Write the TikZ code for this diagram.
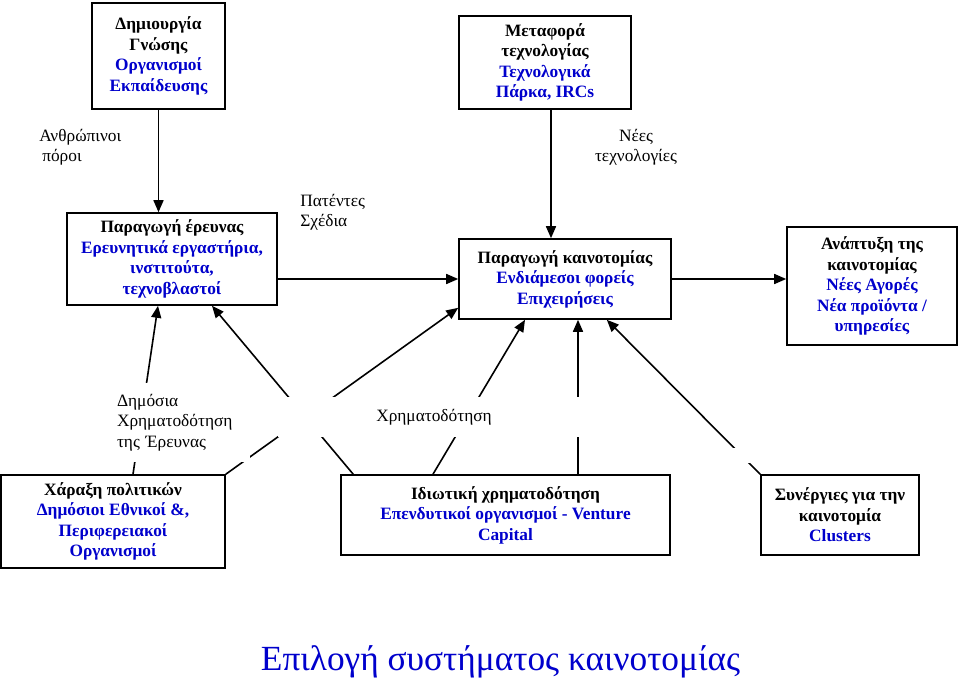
\documentclass[tikz,border=0pt]{standalone}
\usepackage{fontspec}
\setmainfont{Liberation Serif}
\usetikzlibrary{arrows.meta}
\definecolor{wordblue}{RGB}{0,0,204}
\newcommand{\bl}[1]{\textcolor{wordblue}{#1}}

\begin{document}
\begin{tikzpicture}[x=0.75pt,y=-0.75pt,
  box/.style={draw, line width=1.2pt, fill=white, align=center, inner sep=0pt,
    font=\fontsize{13}{15.4}\selectfont\bfseries},
  lbl/.style={align=left, inner sep=0pt, font=\fontsize{13}{15.4}\selectfont},
  mask/.style={fill=white, inner sep=0pt},
  arr/.style={line width=1.2pt, -{Triangle[length=9pt,width=7.5pt]}}]
\useasboundingbox (0,0) rectangle (959,678);
%% \draw[help lines, step=50] (0,0) grid (959,678);

%% top row
\node[box, minimum width=99.75pt, minimum height=79.5pt] (knowledge) at (158.5,56)
  {Δημιουργία\\Γνώσης\\\bl{Οργανισμοί}\\\bl{Εκπαίδευσης}};
\node[box, minimum width=129pt, minimum height=69.75pt] (transfer) at (545,62.5)
  {Μεταφορά\\τεχνολογίας\\\bl{Τεχνολογικά}\\\bl{Πάρκα, IRCs}};

%% middle row
\node[box, minimum width=157.5pt, minimum height=69pt] (research) at (172,259)
  {Παραγωγή έρευνας\\\bl{Ερευνητικά εργαστήρια,}\\\bl{ινστιτούτα,}\\\bl{τεχνοβλαστοί}};
\node[box, minimum width=159pt, minimum height=60pt] (innov) at (565,279)
  {Παραγωγή καινοτομίας\\\bl{Ενδιάμεσοι φορείς}\\\bl{Επιχειρήσεις}};
\node[box, minimum width=127.5pt, minimum height=88.5pt] (devel) at (872,286)
  {Ανάπτυξη της\\καινοτομίας\\\bl{Νέες Αγορές}\\\bl{Νέα προϊόντα /}\\\bl{υπηρεσίες}};

%% bottom row
\node[box, minimum width=168pt, minimum height=69.75pt] (pol) at (113,521.5)
  {Χάραξη πολιτικών\\\bl{Δημόσιοι Εθνικοί \&,}\\\bl{Περιφερειακοί}\\\bl{Οργανισμοί}};
\node[box, minimum width=246.75pt, minimum height=60pt] (priv) at (505.5,515)
  {Ιδιωτική χρηματοδότηση\\\bl{Επενδυτικοί οργανισμοί - Venture}\\\bl{Capital}};
\node[box, minimum width=118.5pt, minimum height=60pt] (syn) at (840,515)
  {Συνέργιες για την\\καινοτομία\\\bl{Clusters}};

%% flows between the boxes
\coordinate (tt) at ([xshift=4.5pt]transfer.south);
\draw[arr] (knowledge.south) -- (knowledge.south |- research.north);
\draw[arr] (tt) -- (tt |- innov.north);
\draw[arr] (research.east |- innov.west) -- (innov.west);
\draw[arr] (innov.east) -- (innov.east -| devel.west);

%% funding lines
\draw[arr] ([xshift=15pt]pol.north) -- ([xshift=-10.5pt]research.south);
\draw[arr] (pol.north east) -- ([yshift=9pt]innov.south west);
\draw[arr] ([xshift=9.75pt]priv.north west) -- ([xshift=30pt]research.south);
\draw[arr] ([xshift=-54.4pt]priv.north) -- ([xshift=-30pt]innov.south);
\draw[arr] ([xshift=54.4pt]priv.north) -- ([xshift=9.75pt]innov.south);
\draw[arr] (syn.north west) -- ([xshift=-48.75pt]innov.south east);

%% labels (white text boxes break the lines)
\node[lbl, mask, text width=90.75pt, minimum height=59.25pt, inner xsep=9pt] (pubfund)
  at (177.5,422.5) {Δημόσια\\Χρηματοδότηση\\της Έρευνας};
\node[lbl, mask, align=center, minimum width=234pt, minimum height=30pt] (privfund)
  at (434,417) {Χρηματοδότηση};
\node[mask, minimum width=18pt, minimum height=11.25pt] (gap) at (741,455.5) {};

\node[lbl, anchor=west] (hr) at (39,147) {Ανθρώπινοι\\\hspace{2.25pt}πόροι};
\node[lbl, align=center] (newtech) at (636,147) {Νέες\\τεχνολογίες};
\node[lbl, anchor=west] (patents) at (300,212) {Πατέντες\\Σχέδια};

\node[anchor=base, inner sep=0pt, text=wordblue, font=\fontsize{26.5}{32}\selectfont]
  (title) at (500.5,670) {Επιλογή συστήματος καινοτομίας};
\end{tikzpicture}
\end{document}
